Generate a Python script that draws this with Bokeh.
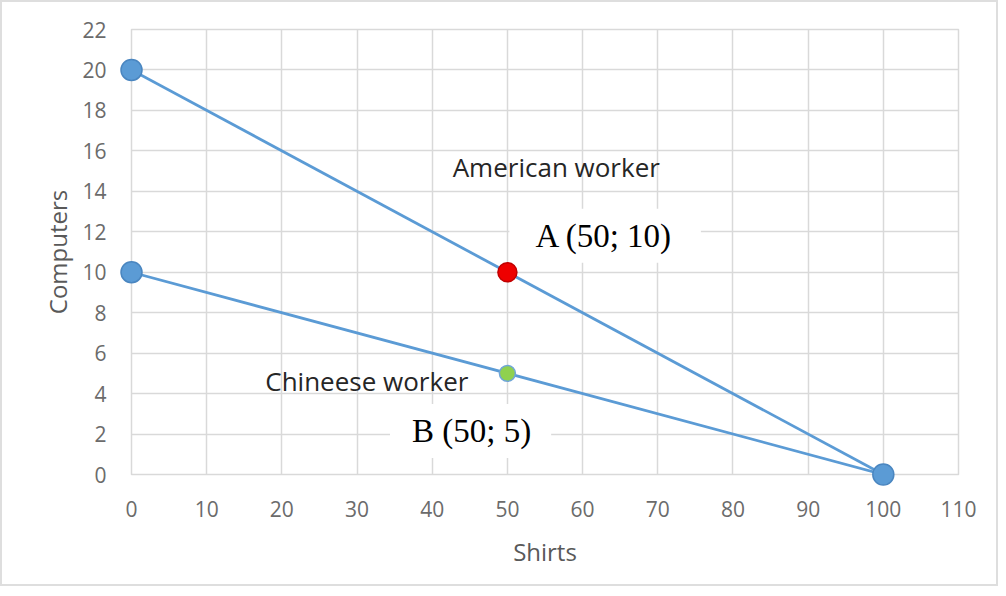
from bokeh.plotting import figure
from bokeh.models import Range1d, Label, SingleIntervalTicker
from bokeh.embed import file_html
from bokeh.resources import INLINE

# Data
american_x = [0, 100]
american_y = [20, 0]
chinese_x = [0, 100]
chinese_y = [10, 0]
end_x = [0, 0, 100]
end_y = [20, 10, 0]
point_a = (50, 10)
point_b = (50, 5)
label_a = "A (50; 10)"
label_b = "B (50; 5)"
name_american = "American worker"
name_chinese = "Chineese worker"

BLUE = "#5b9bd5"
GRID = "#d9d9d9"
TXT = "#595959"

p = figure(width=998, height=586, output_backend="svg", toolbar_location=None,
           x_range=Range1d(0, 110), y_range=Range1d(0, 22),
           min_border_left=129, min_border_right=42, min_border_top=27, min_border_bottom=114)
p.styles = {"border": "2px solid #dedede"}

p.xaxis.ticker = SingleIntervalTicker(interval=10)
p.yaxis.ticker = SingleIntervalTicker(interval=2)
for ax in (p.xaxis[0], p.yaxis[0]):
    ax.axis_line_color = None
    ax.major_tick_line_color = None
    ax.minor_tick_line_color = None
    ax.major_label_text_font = "Open Sans"
    ax.major_label_text_font_size = "21px"
    ax.major_label_text_color = "#6b6b6b"
    ax.axis_label_text_font = "Open Sans"
    ax.axis_label_text_font_size = "24px"
    ax.axis_label_text_font_style = "normal"
    ax.axis_label_text_color = TXT
p.xaxis.axis_label = "Shirts"
p.yaxis.axis_label = "Computers"
p.xaxis.major_label_standoff = 20
p.yaxis.major_label_standoff = 19
p.xaxis.axis_label_standoff = 15
p.yaxis.axis_label_standoff = 5

p.xgrid.ticker = SingleIntervalTicker(interval=10)
p.ygrid.ticker = SingleIntervalTicker(interval=2)
p.grid.grid_line_color = GRID
p.grid.grid_line_width = 1.5
p.outline_line_color = GRID
p.outline_line_width = 1.5

p.line(american_x, american_y, line_color=BLUE, line_width=2.8)
p.line(chinese_x, chinese_y, line_color=BLUE, line_width=2.8)

r1 = p.scatter(end_x, end_y, size=21, fill_color=BLUE, line_color="#4a86c0", line_width=1.5)
r2 = p.scatter([point_a[0]], [point_a[1]], size=19, fill_color="#ee0000", line_color="#c00000", line_width=1.5)
r3 = p.scatter([point_b[0]], [point_b[1]], size=16, fill_color="#8fd14f", line_color="#6fa5d8", line_width=1.5)
for r in (r1, r2, r3):
    r.level = "overlay"

p.add_layout(Label(x=56.5, y=15.2, text=name_american, text_font="Open Sans", text_font_size="26px",
                   text_color="#262626", text_align="center", text_baseline="middle"))
p.add_layout(Label(x=31.3, y=4.6, text=name_chinese, text_font="Open Sans", text_font_size="26px",
                   text_color="#262626", text_align="center", text_baseline="middle"))
p.add_layout(Label(x=63.0, y=11.8, text=label_a, text_font="Liberation Serif", text_font_size="33px",
                   text_color="black", text_align="center", text_baseline="middle",
                   background_fill_color="white", padding=dict(left=26, right=28, top=9, bottom=9)))
p.add_layout(Label(x=45.1, y=2.15, text=label_b, text_font="Liberation Serif", text_font_size="33px",
                   text_color="black", text_align="center", text_baseline="middle",
                   background_fill_color="white", padding=dict(left=22, right=20, top=9, bottom=9)))

open("out.html", "w").write(file_html(p, INLINE))
